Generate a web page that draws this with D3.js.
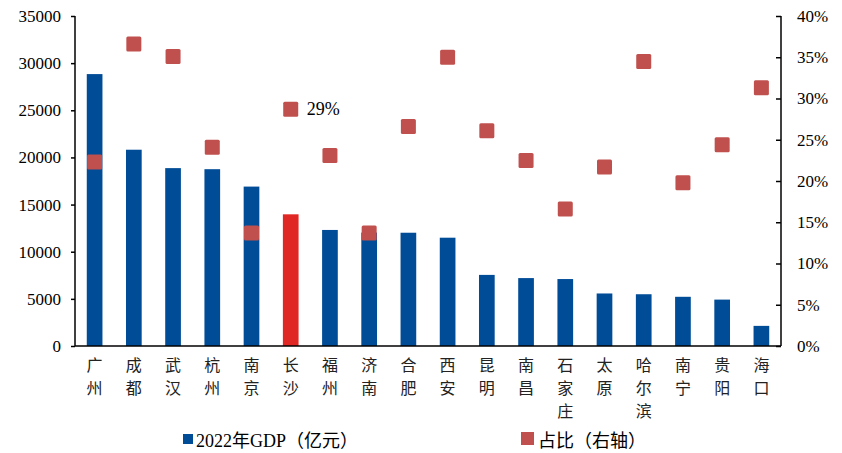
<!DOCTYPE html>
<html><head><meta charset="utf-8">
<script src="https://cdn.jsdelivr.net/npm/d3@7"></script>
<style>body{margin:0;background:#fff}svg{display:block}</style>
</head><body>
<svg id="c" width="842" height="453"></svg>
<script>
const cities = ["广州","成都","武汉","杭州","南京","长沙","福州","济南","合肥","西安","昆明","南昌","石家庄","太原","哈尔滨","南宁","贵阳","海口"];
const gdp = [28839,20817.5,18866,18753,16907,13966,12308,12027,12013,11486,7541,7203,7101,5571,5490,5218,4921,2134];
const share = [0.223,0.366,0.351,0.241,0.137,0.287,0.231,0.137,0.266,0.350,0.261,0.225,0.166,0.217,0.345,0.198,0.244,0.313];
const leftTicks = [0,5000,10000,15000,20000,25000,30000,35000];
const rightTicks = [0,0.05,0.10,0.15,0.20,0.25,0.30,0.35,0.40];
const highlight = "长沙";
const legendLabels = ["2022年GDP（亿元）","占比（右轴）"];

const svg = d3.select("#c");
const L=75, R=781, T=16, B=346;
const serif = "Liberation Serif, Times New Roman, serif";
const cjk = "Noto Sans CJK SC, sans-serif";

const x = d3.scaleBand().domain(cities).range([L,R]).paddingInner(0.6).paddingOuter(0.3);
const y = d3.scaleLinear().domain([0,35000]).range([B,T]);
const y2 = d3.scaleLinear().domain([0,0.40]).range([B,T]);

svg.selectAll("rect.bar").data(cities).enter().append("rect")
  .attr("x", d=>x(d)).attr("width", x.bandwidth())
  .attr("y", (d,i)=>y(gdp[i])).attr("height",(d,i)=>B-y(gdp[i]))
  .attr("fill", d=>d===highlight?"#E02723":"#004C97");

const ms=15;
svg.selectAll("rect.mk").data(cities).enter().append("rect")
  .attr("x", d=>x(d)+x.bandwidth()/2-ms/2).attr("width",ms)
  .attr("y",(d,i)=>y2(share[i])-ms/2).attr("height",ms)
  .attr("rx",1.5)
  .attr("fill","#C0504D");

const hi = cities.indexOf(highlight);
svg.append("text").attr("x", x(highlight)+x.bandwidth()/2+16).attr("y", y2(share[hi])+6)
  .style("font-family",serif).style("font-size","18px").text(d3.format(".0%")(share[hi]));

const la = svg.append("g").attr("transform",`translate(${L},0)`)
  .call(d3.axisLeft(y).tickValues(leftTicks).tickSize(4).tickPadding(10).tickFormat(d3.format("d")));
const ra = svg.append("g").attr("transform",`translate(${R},0)`)
  .call(d3.axisRight(y2).tickValues(rightTicks).tickSize(-5).tickPadding(16).tickFormat(d3.format(".0%")));
[la,ra].forEach(g=>{
  g.attr("font-family",null).attr("font-size",null);
  g.select(".domain").attr("stroke","#000").attr("stroke-width",1.5);
  g.selectAll(".tick line").attr("stroke","#000").attr("stroke-width",1.5);
  g.selectAll("text").style("font-family",serif).style("font-size","17px").attr("fill","#000");
});
la.select(".domain").attr("d",`M0,${T}V${B}`);
ra.select(".domain").attr("d",`M0,${T}V${B}`);
svg.append("line").attr("x1",L).attr("x2",R).attr("y1",B).attr("y2",B).attr("stroke","#000").attr("stroke-width",1.5);

cities.forEach(c=>{
  const t = svg.append("text").style("font-family",cjk).style("font-size","16px").attr("text-anchor","middle").attr("fill","#222");
  [...c].forEach((ch,j)=>{
    t.append("tspan").attr("x",x(c)+x.bandwidth()/2).attr("y",371+j*23).text(ch);
  });
});

svg.append("rect").attr("x",183).attr("y",434).attr("width",10).attr("height",10).attr("fill","#004C97");
svg.append("text").attr("x",196).attr("y",447).style("font-family",serif+", Noto Sans CJK SC").style("font-size","18px").text(legendLabels[0]);
svg.append("rect").attr("x",521).attr("y",432).attr("width",13).attr("height",13).attr("fill","#C0504D");
svg.append("text").attr("x",538).attr("y",447).style("font-family",cjk).style("font-size","18px").text(legendLabels[1]);
</script>
</body></html>
